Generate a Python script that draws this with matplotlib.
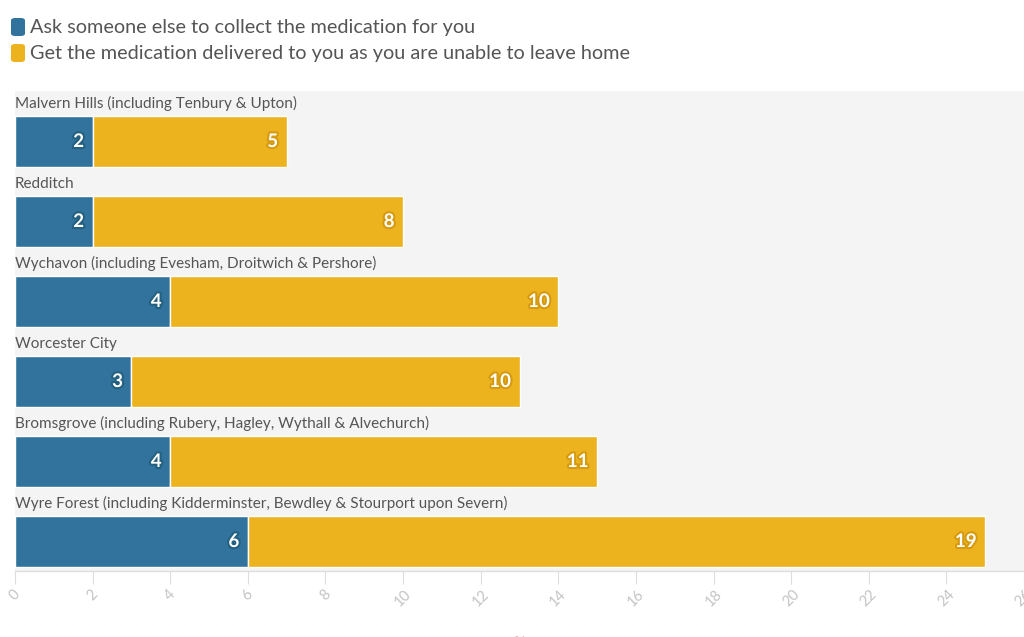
import matplotlib
matplotlib.use("Agg")
import matplotlib.pyplot as plt
import matplotlib.patheffects as pe
from matplotlib.patches import FancyBboxPatch

plt.rcParams['font.family'] = ['Lato', 'DejaVu Sans']

categories = [
    "Malvern Hills (including Tenbury & Upton)",
    "Redditch",
    "Wychavon (including Evesham, Droitwich & Pershore)",
    "Worcester City",
    "Bromsgrove (including Rubery, Hagley, Wythall & Alvechurch)",
    "Wyre Forest (including Kidderminster, Bewdley & Stourport upon Severn)",
]
collect_by_other = [2, 2, 4, 3, 4, 6]
delivered = [5, 8, 10, 10, 11, 19]
series_names = [
    "Ask someone else to collect the medication for you",
    "Get the medication delivered to you as you are unable to leave home",
]
x_ticks = list(range(0, 27, 2))

BLUE = "#31739c"
YELLOW = "#ecb31f"
BLUE_DARK = "#24607f"
YELLOW_DARK = "#d69a10"

W, H = 1024, 637
fig = plt.figure(figsize=(W / 100, H / 100), dpi=100)
ax = fig.add_axes([15 / W, 1 - 571 / H, 1009 / W, 480 / H])
ax.set_facecolor("#f4f4f4")

row_px = 80.0
bar_h = 51 / row_px
ax.set_xlim(0, 26)
ax.set_ylim((571 - 141.5) / row_px, (91 - 141.5) / row_px)

for i, (cat, a, b) in enumerate(zip(categories, collect_by_other, delivered)):
    ax.barh(i, a, height=bar_h, left=0, color=BLUE, edgecolor="white", linewidth=1)
    ax.barh(i, b, height=bar_h, left=a, color=YELLOW, edgecolor="white", linewidth=1)
    ax.text(0, i - 0.47, cat, ha="left", va="center", fontsize=11, color="#555555")
    for end, val, dark in ((a, a, BLUE_DARK), (a + b, b, YELLOW_DARK)):
        ax.text(end - 0.22, i, str(val), ha="right", va="center", fontsize=13.5,
                fontweight="bold", color="white",
                path_effects=[pe.withStroke(linewidth=3, foreground=dark)])

for s in ("top", "right", "left"):
    ax.spines[s].set_visible(False)
ax.spines["bottom"].set_color("#dddddd")
ax.spines["bottom"].set_linewidth(1)
ax.set_yticks([])
ax.set_xticks(x_ticks)
ax.set_xticklabels([str(t) for t in x_ticks], rotation=45, ha="center",
                   fontsize=10.5, color="#c4c4c4")
ax.tick_params(axis="x", length=9, color="#dddddd", pad=3)
ax.set_xlabel("%", fontsize=10.5, color="#c4c4c4")
ax.xaxis.set_label_coords(0.5, -0.135)

# legend drawn as figure-level swatches and text
for k, (name, col) in enumerate(zip(series_names, (BLUE, YELLOW))):
    yc = 27 + 26 * k
    sw = FancyBboxPatch((11 / W, 1 - (yc + 9) / H), 14 / W, 18 / H,
                        boxstyle="round,pad=0,rounding_size=0.004",
                        transform=fig.transFigure, facecolor=col, edgecolor="none")
    fig.patches.append(sw)
    fig.text(30 / W, 1 - yc / H, name, ha="left", va="center", fontsize=14.3,
             color="#555555")

fig.savefig("out.png", dpi=100)
